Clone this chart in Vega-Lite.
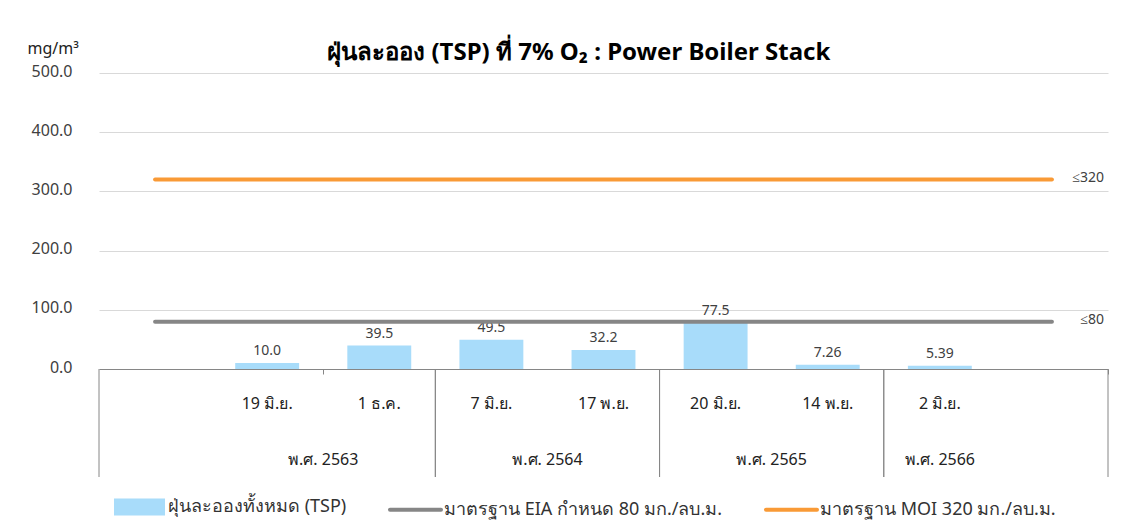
{
  "$schema": "https://vega.github.io/schema/vega-lite/v6.json",
  "background": "white",
  "padding": {"left": 27, "top": 40, "right": 25, "bottom": 5},
  "title": {"text": "ฝุ่นละออง (TSP) ที่ 7% O₂ : Power Boiler Stack", "fontSize": 24, "fontWeight": "bold", "font": "Noto Sans", "color": "#000000", "anchor": "middle", "offset": -25, "dx": 11},
  "config": {"view": {"stroke": null}, "font": "Noto Sans"},
  "spacing": 0,
  "bounds": "flush",
  "datasets": {
    "rows": [
      {"date": " ", "year": "", "tsp": null},
      {"date": "19 มิ.ย.", "year": "พ.ศ. 2563", "tsp": 10.0},
      {"date": "1 ธ.ค.", "year": "พ.ศ. 2563", "tsp": 39.5},
      {"date": "7 มิ.ย.", "year": "พ.ศ. 2564", "tsp": 49.5},
      {"date": "17 พ.ย.", "year": "พ.ศ. 2564", "tsp": 32.2},
      {"date": "20 มิ.ย.", "year": "พ.ศ. 2565", "tsp": 77.5},
      {"date": "14 พ.ย.", "year": "พ.ศ. 2565", "tsp": 7.26},
      {"date": "2 มิ.ย.", "year": "พ.ศ. 2566", "tsp": 5.39},
      {"date": "  ", "year": "", "tsp": null}
    ],
    "standards": [
      {"standard": "มาตรฐาน EIA กำหนด 80 มก./ลบ.ม.", "limit": 80, "label": "≤80"},
      {"standard": "มาตรฐาน MOI 320 มก./ลบ.ม.", "limit": 320, "label": "≤320"}
    ],
    "years": [
      {"year": "พ.ศ. 2563", "first": "19 มิ.ย.", "n": 2},
      {"year": "พ.ศ. 2564", "first": "7 มิ.ย.", "n": 2},
      {"year": "พ.ศ. 2565", "first": "20 มิ.ย.", "n": 2},
      {"year": "พ.ศ. 2566", "first": "2 มิ.ย.", "n": 1}
    ],
    "frames": [
      {"start": " ", "end": "1 ธ.ค."},
      {"start": "7 มิ.ย.", "end": "17 พ.ย."},
      {"start": "20 มิ.ย.", "end": "14 พ.ย."},
      {"start": "2 มิ.ย.", "end": "  "}
    ]
  },
  "vconcat": [
    {
      "width": 1009,
      "height": 296,
      "layer": [
        {
          "data": {"name": "rows"},
          "transform": [{"filter": "isValid(datum.tsp)"}],
          "mark": {"type": "bar", "width": {"band": 0.57}},
          "encoding": {
            "x": {"field": "date", "type": "nominal", "sort": null, "scale": {"domain": [" ", "19 มิ.ย.", "1 ธ.ค.", "7 มิ.ย.", "17 พ.ย.", "20 มิ.ย.", "14 พ.ย.", "2 มิ.ย.", "  "], "paddingInner": 0, "paddingOuter": 0}, "axis": null},
            "y": {"field": "tsp", "type": "quantitative", "scale": {"domain": [0, 500], "nice": false}, "axis": {"values": [0, 100, 200, 300, 400, 500], "format": ".1f", "labelFontSize": 16, "labelColor": "#404040", "labelPadding": 27, "labelOffset": -2, "ticks": false, "domain": false, "gridColor": {"condition": {"test": "datum.value === 0", "value": "#868686"}, "value": "#d9d9d9"}, "title": "mg/m³", "titleAngle": 0, "titleAlign": "left", "titleBaseline": "middle", "titleX": -72, "titleY": -25, "titleFontWeight": "normal", "titleFontSize": 16, "titleColor": "#222222"}},
            "color": {
              "datum": "ฝุ่นละอองทั้งหมด (TSP)", "type": "nominal",
              "scale": {"domain": ["ฝุ่นละอองทั้งหมด (TSP)", "มาตรฐาน EIA กำหนด 80 มก./ลบ.ม.", "มาตรฐาน MOI 320 มก./ลบ.ม."], "range": ["#a8dcfa", "#868686", "#f99a36"]},
              "legend": {
                "title": null, "orient": "bottom", "direction": "horizontal", "offset": -12, "padding": 13,
                "symbolSize": 2601, "symbolStrokeWidth": 4,
                "labelFontSize": 18, "labelColor": "#333333", "labelOffset": 1, "labelLimit": 0, "columnPadding": 35,
                "encode": {"symbols": {"update": {
                  "shape": {"signal": "datum.index === 0 ? 'M-0.922,-0.255H0.922V0.255H-0.922Z' : 'M-1,0H1'"},
                  "size": {"value": 2601},
                  "fill": {"signal": "datum.index === 0 ? scale('color', datum.value) : 'transparent'"},
                  "stroke": {"signal": "scale('color', datum.value)"},
                  "strokeWidth": {"value": 4},
                  "strokeCap": {"value": "round"},
                  "opacity": {"value": 1}
                }}}
              }
            }
          }
        },
        {
          "data": {"name": "rows"},
          "transform": [{"filter": "isValid(datum.tsp)"}],
          "mark": {"type": "text", "fontSize": 14, "color": "#404040", "baseline": "bottom", "dy": -5},
          "encoding": {
            "x": {"field": "date", "type": "nominal", "sort": null},
            "y": {"field": "tsp", "type": "quantitative"},
            "text": {"field": "tsp", "type": "quantitative", "format": ".3r"}
          }
        },
        {
          "data": {"name": "standards"},
          "mark": {"type": "rule", "strokeWidth": 4, "strokeCap": "round"},
          "encoding": {
            "x": {"datum": " ", "type": "nominal"},
            "x2": {"datum": "  "},
            "y": {"field": "limit", "type": "quantitative"},
            "color": {"field": "standard", "type": "nominal", "title": null, "legend": null}
          }
        },
        {
          "data": {"name": "standards"},
          "mark": {"type": "text", "fontSize": 14, "color": "#404040", "align": "right", "baseline": "middle", "dx": -4, "dy": -2},
          "encoding": {
            "x": {"datum": "  ", "type": "nominal", "bandPosition": 1},
            "y": {"field": "limit", "type": "quantitative"},
            "text": {"field": "label"}
          }
        }
      ]
    },
    {
      "width": 1009,
      "height": 70,
      "layer": [
        {
          "data": {"name": "rows"},
          "mark": {"type": "text", "fontSize": 16, "color": "#222222"},
          "encoding": {
            "x": {"field": "date", "type": "nominal", "sort": null, "scale": {"domain": [" ", "19 มิ.ย.", "1 ธ.ค.", "7 มิ.ย.", "17 พ.ย.", "20 มิ.ย.", "14 พ.ย.", "2 มิ.ย.", "  "], "paddingInner": 0, "paddingOuter": 0}, "axis": {"orient": "top", "title": null, "labels": false, "domain": false, "grid": false, "ticks": true, "tickBand": "extent", "tickColor": "#868686", "tickSize": {"condition": {"test": "datum.value === '19 มิ.ย.' || datum.value === '  '", "value": -5}, "value": 0}}},
            "text": {"field": "date"}
          }
        },
        {
          "data": {"name": "frames"},
          "mark": {"type": "rule", "color": "#868686"},
          "encoding": {"x": {"field": "start", "type": "nominal", "bandPosition": 0}}
        },
        {
          "data": {"name": "frames"},
          "mark": {"type": "rule", "color": "#868686"},
          "encoding": {"x": {"field": "end", "type": "nominal", "bandPosition": 1}}
        }
      ]
    },
    {
      "width": 1009,
      "height": 38,
      "layer": [
        {
          "data": {"name": "years"},
          "transform": [{"filter": "datum.n === 2"}],
          "mark": {"type": "text", "fontSize": 16, "color": "#222222", "dy": 2},
          "encoding": {
            "x": {"field": "first", "type": "nominal", "bandPosition": 1, "scale": {"domain": [" ", "19 มิ.ย.", "1 ธ.ค.", "7 มิ.ย.", "17 พ.ย.", "20 มิ.ย.", "14 พ.ย.", "2 มิ.ย.", "  "], "paddingInner": 0, "paddingOuter": 0}, "axis": null},
            "text": {"field": "year"}
          }
        },
        {
          "data": {"name": "years"},
          "transform": [{"filter": "datum.n === 1"}],
          "mark": {"type": "text", "fontSize": 16, "color": "#222222", "dy": 2},
          "encoding": {
            "x": {"field": "first", "type": "nominal", "bandPosition": 0.5},
            "text": {"field": "year"}
          }
        },
        {
          "data": {"name": "frames"},
          "mark": {"type": "rule", "color": "#868686"},
          "encoding": {"x": {"field": "start", "type": "nominal", "bandPosition": 0}}
        },
        {
          "data": {"name": "frames"},
          "mark": {"type": "rule", "color": "#868686"},
          "encoding": {"x": {"field": "end", "type": "nominal", "bandPosition": 1}}
        }
      ]
    }
  ]
}
